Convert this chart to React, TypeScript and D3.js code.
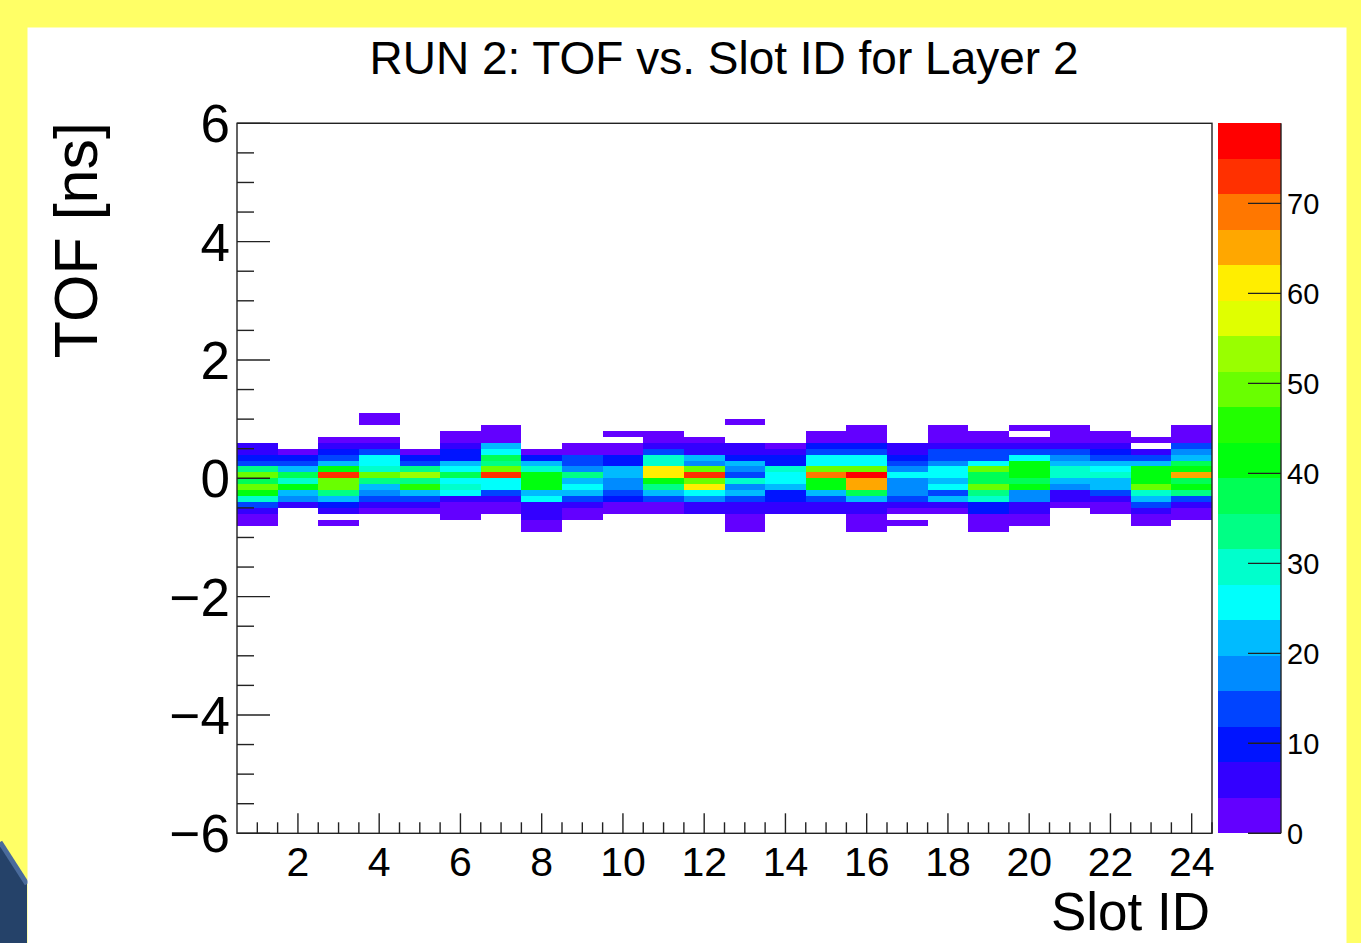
import React from 'react';
import * as d3 from 'd3';

const W = 1361;
const H = 943;

// ---- data ----
const title = 'RUN 2: TOF vs. Slot ID for Layer 2';
const xTitle = 'Slot ID';
const yTitle = 'TOF [ns]';
const slotIds = d3.range(1, 25);
// lower edges of TOF bins (ns), top row first; bin width 0.1 ns
const tofBinLow = [1.0, 0.9, 0.8, 0.7, 0.6, 0.5, 0.4, 0.3, 0.2, 0.1, 0.0, -0.1, -0.2, -0.3, -0.4, -0.5, -0.6, -0.7, -0.8, -0.9];
const tofBinWidth = 0.1;
// counts[slot-1][row]
const counts: number[][] = [
  [0, 0, 0, 0, 0, 6, 4, 10, 14, 34, 50, 36, 48, 40, 30, 14, 6, 2, 2, 0],
  [0, 0, 0, 0, 0, 0, 2, 10, 14, 22, 38, 30, 41, 21, 18, 5, 0, 0, 0, 0],
  [0, 0, 0, 0, 2, 6, 10, 12, 22, 41, 73, 50, 48, 34, 22, 10, 5, 0, 2, 0],
  [2, 2, 0, 0, 2, 6, 12, 24, 27, 31, 50, 33, 22, 19, 12, 6, 2, 0, 0, 0],
  [0, 0, 0, 0, 0, 0, 3, 10, 14, 34, 54, 32, 45, 22, 14, 6, 3, 0, 0, 0],
  [0, 0, 0, 2, 3, 5, 10, 10, 22, 26, 38, 26, 30, 25, 6, 3, 2, 2, 0, 0],
  [0, 0, 2, 3, 2, 22, 26, 37, 34, 48, 73, 26, 26, 14, 6, 2, 2, 0, 0, 0],
  [0, 0, 0, 0, 0, 0, 3, 10, 22, 30, 40, 42, 40, 22, 26, 6, 5, 4, 2, 2],
  [0, 0, 0, 0, 0, 2, 3, 12, 15, 18, 34, 22, 26, 20, 12, 6, 2, 2, 0, 0],
  [0, 0, 0, 2, 0, 2, 3, 10, 10, 22, 21, 18, 18, 12, 10, 3, 2, 0, 0, 0],
  [0, 0, 0, 2, 2, 6, 12, 30, 31, 60, 60, 41, 32, 22, 14, 3, 2, 0, 0, 0],
  [0, 0, 0, 0, 2, 6, 6, 22, 18, 49, 74, 49, 61, 26, 18, 6, 5, 0, 0, 0],
  [0, 2, 0, 0, 0, 4, 5, 8, 20, 16, 12, 30, 18, 20, 14, 6, 5, 2, 2, 2],
  [0, 0, 0, 0, 0, 3, 5, 10, 10, 30, 26, 26, 22, 10, 10, 6, 5, 0, 0, 0],
  [0, 0, 0, 2, 2, 10, 14, 26, 25, 49, 69, 41, 41, 22, 14, 6, 5, 0, 0, 0],
  [0, 0, 2, 2, 2, 10, 12, 26, 26, 49, 77, 65, 65, 37, 22, 6, 6, 2, 2, 2],
  [0, 0, 0, 0, 0, 4, 6, 10, 14, 16, 26, 18, 19, 16, 14, 6, 2, 0, 2, 0],
  [0, 0, 2, 2, 2, 6, 14, 14, 18, 26, 26, 22, 26, 14, 22, 6, 2, 0, 0, 0],
  [0, 0, 0, 2, 2, 6, 12, 12, 26, 50, 37, 37, 49, 34, 30, 10, 10, 2, 2, 2],
  [0, 0, 2, 0, 2, 6, 14, 26, 40, 41, 41, 37, 40, 18, 18, 6, 6, 2, 2, 0],
  [0, 0, 2, 2, 2, 6, 14, 18, 22, 30, 28, 22, 18, 6, 6, 2, 0, 0, 0, 0],
  [0, 0, 0, 2, 2, 6, 10, 14, 22, 26, 30, 22, 20, 14, 6, 2, 2, 0, 0, 0],
  [0, 0, 0, 0, 2, 0, 6, 14, 22, 40, 40, 41, 50, 31, 22, 14, 4, 2, 2, 0],
  [0, 0, 2, 2, 2, 14, 16, 22, 38, 40, 66, 37, 40, 32, 14, 6, 2, 2, 0, 0],
];
const zMax = 78.9;
const nContours = 20;
const yTickLabels = [-6, -4, -2, 0, 2, 4, 6];
const xTickLabels = [2, 4, 6, 8, 10, 12, 14, 16, 18, 20, 22, 24];
const zTickLabels = [0, 10, 20, 30, 40, 50, 60, 70];

// ---- layout ----
const FRAME = { left: 237, right: 1212, top: 123.3, bottom: 833.3 };
const BAR = { left: 1218, right: 1281 };
const FONT = "'Liberation Sans', Arial, Helvetica, sans-serif";

const xScale = d3.scaleLinear().domain([0.5, 24.5]).range([FRAME.left, FRAME.right]);
const yScale = d3.scaleLinear().domain([-6, 6]).range([FRAME.bottom, FRAME.top]);
const zScale = d3.scaleLinear().domain([0, zMax]).range([FRAME.bottom, FRAME.top]);

// ROOT "pretty" palette (50 colours violet->red), sampled for 20 contours
function paletteColor(k: number): string {
  const idx = Math.floor((k + 0.99) * 50 / nContours);
  const hue = idx >= 49 ? 0 : 280 - (idx + 1) * 5.6;
  return d3.hsl(hue, 1, 0.5).formatHex();
}
const palette = d3.range(nContours).map(paletteColor);
const colorScale = d3.scaleQuantize<string>().domain([0, zMax]).range(palette);

const fmt = (v: number) => (v < 0 ? '\u2212' + Math.abs(v) : String(v));

export default function App() {
  const cells: { x: number; y: number; w: number; h: number; c: string }[] = [];
  slotIds.forEach((s, si) => {
    tofBinLow.forEach((lo, ri) => {
      const v = counts[si][ri];
      if (v <= 0) return;
      const x0 = xScale(s - 0.5);
      const x1 = xScale(s + 0.5);
      const y0 = yScale(lo + tofBinWidth);
      const y1 = yScale(lo);
      cells.push({ x: x0, y: y0, w: x1 - x0, h: y1 - y0, c: colorScale(Math.min(v, zMax - 1e-6)) });
    });
  });

  const yMinor = d3.range(-6, 6.01, 0.5);
  const xMinor = d3.range(1, 24.51, 0.5);

  return (
    <svg width={W} height={H} style={{ position: 'absolute', left: 0, top: 0, display: 'block' }} fontFamily={FONT}>
      <rect x={0} y={0} width={W} height={H} fill="#ffff66" />
      <polygon points="0,842 27,884 27,943 0,943" fill="#254269" />
      <line x1={0} y1={842} x2={27} y2={884} stroke="#4a6b9b" strokeWidth={5} />
      <rect x={27.5} y={27.5} width={1319} height={H - 27.5} fill="#ffffff" />

      {/* title */}
      <text x={724} y={74} fontSize={46} textAnchor="middle" fill="#000">{title}</text>

      {/* heatmap cells */}
      <g shapeRendering="crispEdges">
        {cells.map((c, i) => (
          <rect key={i} x={c.x} y={c.y} width={c.w} height={c.h} fill={c.c} />
        ))}
      </g>

      {/* frame */}
      <rect x={FRAME.left} y={FRAME.top} width={FRAME.right - FRAME.left} height={FRAME.bottom - FRAME.top}
        fill="none" stroke="#222" strokeWidth={1.4} />

      {/* y axis ticks */}
      {yMinor.map((v) => {
        const major = Math.abs(v % 2) < 1e-9;
        return (
          <line key={'ym' + v} x1={FRAME.left} x2={FRAME.left + (major ? 33 : 17)} y1={yScale(v)} y2={yScale(v)}
            stroke="#222" strokeWidth={1.4} />
        );
      })}
      {yTickLabels.map((v) => (
        <text key={'yl' + v} x={230} y={yScale(v) + 19} fontSize={53} textAnchor="end" fill="#000">{fmt(v)}</text>
      ))}

      {/* x axis ticks */}
      {xMinor.map((v) => {
        const major = Math.abs(v % 2) < 1e-9;
        return (
          <line key={'xm' + v} x1={xScale(v)} x2={xScale(v)} y1={FRAME.bottom} y2={FRAME.bottom - (major ? 20 : 11)}
            stroke="#222" strokeWidth={1.4} />
        );
      })}
      {xTickLabels.map((v) => (
        <text key={'xl' + v} x={xScale(v)} y={876} fontSize={41} textAnchor="middle" fill="#000">{fmt(v)}</text>
      ))}

      {/* axis titles */}
      <text x={1210} y={930} fontSize={53} textAnchor="end" fill="#000">{xTitle}</text>
      <text transform={`translate(97, 122) rotate(-90)`} fontSize={61} textAnchor="end" fill="#000">{yTitle}</text>

      {/* colour bar */}
      <g shapeRendering="crispEdges">
        {palette.map((c, k) => {
          const y0 = zScale(((k + 1) * zMax) / nContours);
          const y1 = zScale((k * zMax) / nContours);
          return <rect key={'pb' + k} x={BAR.left} y={y0} width={BAR.right - BAR.left} height={y1 - y0} fill={c} />;
        })}
      </g>
      <line x1={BAR.right} x2={BAR.right} y1={FRAME.top} y2={FRAME.bottom} stroke="#222" strokeWidth={1.4} />
      {zTickLabels.map((v) => (
        <g key={'zt' + v}>
          <line x1={BAR.right - 33} x2={BAR.right} y1={zScale(v)} y2={zScale(v)} stroke="#222" strokeWidth={1.4} />
          <text x={1287} y={zScale(v) + 10.5} fontSize={29} fill="#000">{v}</text>
        </g>
      ))}
    </svg>
  );
}
